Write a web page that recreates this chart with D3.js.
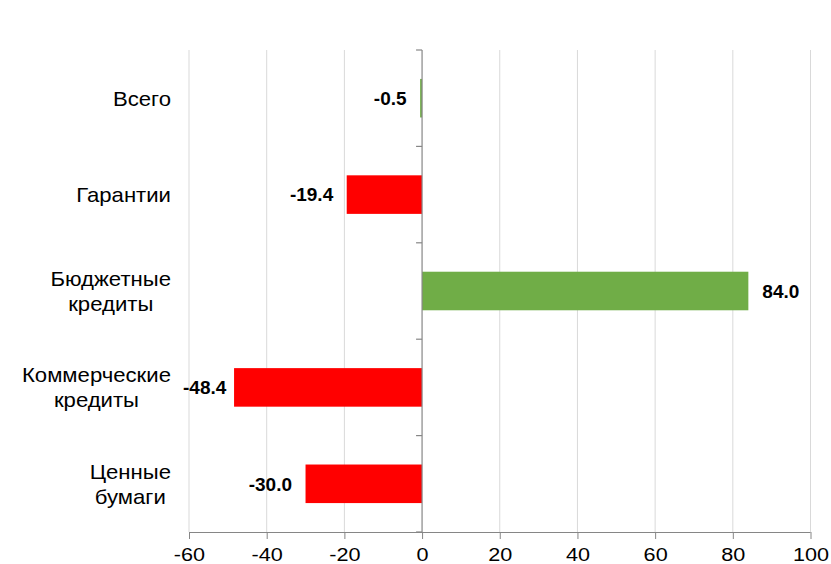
<!DOCTYPE html>
<html>
<head>
<meta charset="utf-8">
<script src="https://cdn.jsdelivr.net/npm/d3@7"></script>
<style>
  body { margin: 0; background: #fff; }
  svg { display: block; }
</style>
</head>
<body>
<svg id="chart" width="831" height="564"></svg>
<script>
const categories = [["Всего"], ["Гарантии"], ["Бюджетные", "кредиты"], ["Коммерческие", "кредиты"], ["Ценные", "бумаги"]];
const values = [-0.5, -19.4, 84.0, -48.4, -30.0];
const barColors = ["#70AD47", "#FF0000", "#70AD47", "#FF0000", "#FF0000"];
const tickValues = [-60, -40, -20, 0, 20, 40, 60, 80, 100];

const svg = d3.select("#chart");
const font = "'Liberation Sans', Arial, sans-serif";
const axisColor = "#868686";
const gridColor = "#d9d9d9";

const x = d3.scaleLinear().domain([-60, 100]).range([189, 810.5]);
const y = d3.scaleBand().domain(d3.range(categories.length)).range([50, 532]).paddingInner(0.6).paddingOuter(0.3);
const band = d3.scaleBand().domain(d3.range(categories.length)).range([50, 532]);

// gridlines
svg.append("g").selectAll("line").data(tickValues.filter(d => d !== 0)).join("line")
  .attr("x1", d => x(d)).attr("x2", d => x(d))
  .attr("y1", 50).attr("y2", 532)
  .attr("stroke", gridColor).attr("stroke-width", 1);

// bars
svg.append("g").selectAll("rect").data(values).join("rect")
  .attr("x", d => Math.min(x(0), x(d)))
  .attr("width", d => Math.abs(x(d) - x(0)))
  .attr("y", (d, i) => y(i))
  .attr("height", y.bandwidth())
  .attr("fill", (d, i) => barColors[i]);

// x axis
const xAxis = d3.axisBottom(x).tickValues(tickValues).tickSize(7).tickPadding(0).tickFormat(d => d < 0 ? "-" + Math.abs(d) : String(d));
const gx = svg.append("g").attr("transform", "translate(0,532)").call(xAxis);
gx.select(".domain").attr("stroke", axisColor).attr("d", `M${x(-60)},0.5H${x(100)}`);
gx.selectAll(".tick line").attr("stroke", axisColor);
gx.selectAll(".tick text").attr("fill", "#000").attr("font-family", font).attr("font-size", 18.5)
  .attr("y", 29).attr("dy", 0).attr("transform", "scale(1.17,1)");

// zero axis with category ticks
const bounds = d3.range(categories.length + 1).map(i => i < categories.length ? band(i) : 532);
const gz = svg.append("g");
gz.append("line").attr("x1", x(0)).attr("x2", x(0)).attr("y1", 50).attr("y2", 532)
  .attr("stroke", axisColor).attr("stroke-width", 1.2);
gz.selectAll("line.t").data(bounds).join("line").attr("class", "t")
  .attr("x1", x(0) - 6).attr("x2", x(0)).attr("y1", d => d).attr("y2", d => d)
  .attr("stroke", axisColor).attr("stroke-width", 1.2);

// value labels
const fmt = v => (v < 0 ? "-" : "") + Math.abs(v).toFixed(1);
svg.append("g").selectAll("text").data(values).join("text")
  .attr("font-family", font).attr("font-size", 19).attr("font-weight", "bold")
  .attr("fill", "#000")
  .attr("y", (d, i) => band(i) + band.bandwidth() / 2)
  .attr("dy", "0.36em")
  .text(d => fmt(d))
  .each(function(d) {
    const t = d3.select(this);
    if (d >= 0) {
      t.attr("text-anchor", "start").attr("x", x(d) + 14);
    } else {
      const w = this.getComputedTextLength();
      let right = x(d) - 13.5;
      if (right - w < 183) right = 183 + w;
      t.attr("text-anchor", "end").attr("x", right);
    }
  });

// category labels
const lineH = 25;
const stretch = 1.08;
const cg = svg.append("g");
categories.forEach((lines, i) => {
  const cy = band(i) + band.bandwidth() / 2;
  const t = cg.append("text").attr("font-family", font).attr("font-size", 20.5).attr("fill", "#000")
    .attr("text-anchor", "middle");
  lines.forEach((ln, j) => {
    t.append("tspan").attr("x", 0).attr("y", cy + (j - (lines.length - 1) / 2) * lineH).attr("dy", "0.36em").text(ln);
  });
  let maxW = 0;
  t.selectAll("tspan").each(function() { maxW = Math.max(maxW, this.getComputedTextLength()); });
  t.attr("transform", `translate(${171 - maxW * stretch / 2},0) scale(${stretch},1)`);
});
</script>
</body>
</html>
